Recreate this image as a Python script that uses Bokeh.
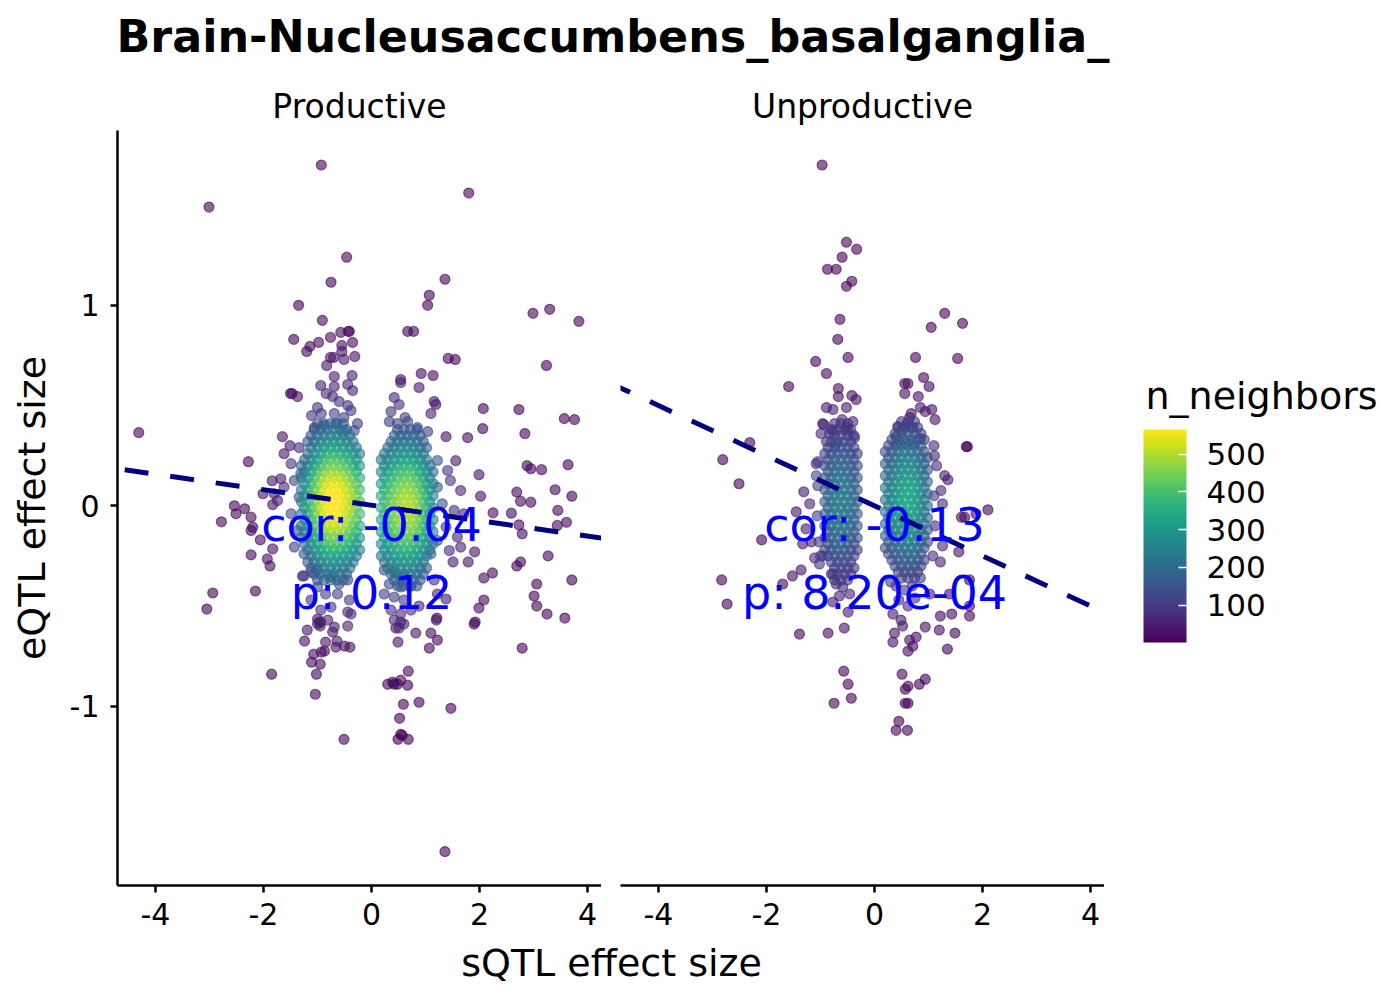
import pandas as pd
from bokeh.plotting import figure
from bokeh.models import (ColumnDataSource, LinearColorMapper, ColorBar, FixedTicker, Range1d,
                          Slope, PrintfTickFormatter)
from bokeh.layouts import column, row
from bokeh.palettes import Viridis256
from bokeh.core.properties import value
from bokeh.embed import file_html
from bokeh.resources import INLINE

FONT = "DejaVu Sans"

title_text = "Brain-Nucleusaccumbens_basalganglia_"
facets = ["Productive", "Unproductive"]
x_title = "sQTL effect size"
y_title = "eQTL effect size"
legend_title = "n_neighbors"
x_ticks = [-4, -2, 0, 2, 4]
y_ticks = [-1, 0, 1]
legend_ticks = [100, 200, 300, 400, 500]
n_low, n_high = 1, 565

# lm fit per facet and the annotation texts
fit_gradient = [-0.0386, -0.125]
fit_intercept = [0.003, 0.0]
cor_text = ["cor: -0.04", "cor: -0.13"]
p_text = ["p: 0.12", "p: 8.20e-04"]
label_x = 0.0
label_y = [-0.098, -0.437]

# ---- dense cores: each row of x / n values sits at one or two eQTL levels ----
prod_left_levels = [[0.02], [0.05, -0.01], [0.08, -0.04], [0.11, -0.07], [0.14, -0.10],
                    [0.17, -0.13], [0.20, -0.16], [0.23, -0.19], [0.26, -0.22], [0.29, -0.25],
                    [0.32, -0.28], [0.35, -0.31], [0.38, -0.34], [0.41, -0.37]]
prod_left_x = [
    [-1.30, -1.18, -1.06, -0.94, -0.82, -0.70, -0.58, -0.46, -0.34, -0.22],
    [-1.24, -1.12, -1.00, -0.88, -0.76, -0.64, -0.52, -0.40, -0.28],
    [-1.30, -1.18, -1.06, -0.94, -0.82, -0.70, -0.58, -0.46, -0.34, -0.22],
    [-1.24, -1.12, -1.00, -0.88, -0.76, -0.64, -0.52, -0.40, -0.28],
    [-1.30, -1.18, -1.06, -0.94, -0.82, -0.70, -0.58, -0.46, -0.34, -0.22],
    [-1.24, -1.12, -1.00, -0.88, -0.76, -0.64, -0.52, -0.40, -0.28],
    [-1.30, -1.18, -1.06, -0.94, -0.82, -0.70, -0.58, -0.46, -0.34, -0.22],
    [-1.24, -1.12, -1.00, -0.88, -0.76, -0.64, -0.52, -0.40, -0.28],
    [-1.18, -1.06, -0.94, -0.82, -0.70, -0.58, -0.46, -0.34, -0.22],
    [-1.12, -1.00, -0.88, -0.76, -0.64, -0.52, -0.40, -0.28],
    [-1.18, -1.06, -0.94, -0.82, -0.70, -0.58, -0.46, -0.34],
    [-1.12, -1.00, -0.88, -0.76, -0.64, -0.52, -0.40],
    [-1.06, -0.94, -0.82, -0.70, -0.58, -0.46],
    [-1.00, -0.88, -0.76, -0.64, -0.52],
]
prod_left_n = [
    [225, 325, 425, 505, 555, 565, 555, 520, 460, 390],
    [270, 370, 460, 535, 565, 560, 540, 495, 425],
    [220, 315, 415, 490, 545, 560, 545, 505, 450, 380],
    [255, 350, 435, 505, 540, 535, 510, 465, 400],
    [200, 290, 375, 455, 505, 515, 505, 465, 410, 345],
    [220, 300, 380, 440, 470, 465, 445, 405, 350],
    [170, 245, 320, 380, 425, 440, 425, 395, 350, 300],
    [190, 255, 320, 370, 400, 395, 375, 345, 295],
    [200, 265, 315, 350, 360, 350, 325, 290, 245],
    [205, 255, 300, 320, 315, 300, 275, 235],
    [155, 205, 245, 275, 280, 275, 255, 225],
    [155, 195, 225, 240, 240, 225, 210],
    [150, 180, 200, 210, 200, 185],
    [140, 160, 175, 170, 165],
]
prod_right_levels = [[-0.01], [0.02, -0.04], [0.05, -0.07], [0.08, -0.10], [0.11, -0.13],
                     [0.14, -0.16], [0.17, -0.19], [0.20, -0.22], [0.23, -0.25], [0.26, -0.28],
                     [0.29, -0.31], [0.32, -0.34], [0.35, -0.37], [0.38, -0.40]]
prod_right_x = [
    [0.18, 0.30, 0.42, 0.54, 0.66, 0.78, 0.90, 1.02, 1.14],
    [0.24, 0.36, 0.48, 0.60, 0.72, 0.84, 0.96, 1.08],
    [0.18, 0.30, 0.42, 0.54, 0.66, 0.78, 0.90, 1.02, 1.14],
    [0.24, 0.36, 0.48, 0.60, 0.72, 0.84, 0.96, 1.08],
    [0.18, 0.30, 0.42, 0.54, 0.66, 0.78, 0.90, 1.02, 1.14],
    [0.24, 0.36, 0.48, 0.60, 0.72, 0.84, 0.96, 1.08],
    [0.18, 0.30, 0.42, 0.54, 0.66, 0.78, 0.90, 1.02, 1.14],
    [0.24, 0.36, 0.48, 0.60, 0.72, 0.84, 0.96, 1.08],
    [0.18, 0.30, 0.42, 0.54, 0.66, 0.78, 0.90, 1.02],
    [0.24, 0.36, 0.48, 0.60, 0.72, 0.84, 0.96],
    [0.30, 0.42, 0.54, 0.66, 0.78, 0.90, 1.02],
    [0.36, 0.48, 0.60, 0.72, 0.84, 0.96],
    [0.42, 0.54, 0.66, 0.78, 0.90],
    [0.48, 0.60, 0.72, 0.84],
]
prod_right_n = [
    [345, 405, 455, 490, 505, 480, 420, 340, 255],
    [370, 430, 470, 495, 495, 450, 375, 290],
    [335, 395, 440, 475, 490, 465, 410, 330, 245],
    [350, 410, 445, 470, 470, 430, 355, 275],
    [305, 360, 405, 440, 450, 430, 375, 305, 225],
    [315, 365, 400, 420, 420, 380, 320, 245],
    [270, 315, 355, 380, 395, 375, 325, 265, 195],
    [265, 310, 335, 355, 355, 325, 270, 210],
    [220, 260, 290, 315, 325, 305, 270, 215],
    [215, 250, 270, 285, 285, 260, 215],
    [200, 230, 245, 255, 240, 210, 170],
    [185, 205, 215, 215, 195, 165],
    [170, 180, 185, 180, 155],
    [150, 155, 155, 140],
]
unprod_left_levels = prod_left_levels
unprod_left_x = [
    [-0.92, -0.80, -0.68, -0.56, -0.44, -0.32],
    [-0.86, -0.74, -0.62, -0.50, -0.38],
    [-0.92, -0.80, -0.68, -0.56, -0.44, -0.32],
    [-0.86, -0.74, -0.62, -0.50, -0.38],
    [-0.92, -0.80, -0.68, -0.56, -0.44, -0.32],
    [-0.86, -0.74, -0.62, -0.50, -0.38],
    [-0.92, -0.80, -0.68, -0.56, -0.44, -0.32],
    [-0.86, -0.74, -0.62, -0.50, -0.38],
    [-0.92, -0.80, -0.68, -0.56, -0.44, -0.32],
    [-0.86, -0.74, -0.62, -0.50, -0.38],
    [-0.80, -0.68, -0.56, -0.44],
    [-0.74, -0.62, -0.50, -0.38],
    [-0.80, -0.68, -0.56, -0.44],
    [-0.74, -0.62, -0.50],
]
unprod_left_n = [
    [155, 205, 235, 235, 205, 155],
    [180, 223, 240, 223, 180],
    [150, 200, 230, 230, 200, 150],
    [170, 210, 228, 212, 170],
    [140, 185, 214, 214, 185, 140],
    [155, 192, 206, 192, 155],
    [125, 165, 190, 190, 165, 125],
    [135, 165, 178, 165, 135],
    [105, 135, 158, 158, 135, 105],
    [110, 135, 145, 135, 110],
    [110, 126, 126, 110],
    [105, 113, 105, 85],
    [83, 96, 96, 83],
    [78, 84, 78],
]
unprod_right_levels = [[0.03], [0.06, 0.0], [0.09, -0.03], [0.12, -0.06], [0.15, -0.09],
                       [0.18, -0.12], [0.21, -0.15], [0.24, -0.18], [0.27, -0.21], [0.30, -0.24],
                       [0.33, -0.27], [0.36, -0.30], [0.39, -0.33], [0.42, -0.36]]
unprod_right_x = [
    [0.20, 0.32, 0.44, 0.56, 0.68, 0.80, 0.92],
    [0.26, 0.38, 0.50, 0.62, 0.74, 0.86, 0.98],
    [0.20, 0.32, 0.44, 0.56, 0.68, 0.80, 0.92],
    [0.26, 0.38, 0.50, 0.62, 0.74, 0.86, 0.98],
    [0.20, 0.32, 0.44, 0.56, 0.68, 0.80, 0.92],
    [0.26, 0.38, 0.50, 0.62, 0.74, 0.86, 0.98],
    [0.20, 0.32, 0.44, 0.56, 0.68, 0.80, 0.92],
    [0.26, 0.38, 0.50, 0.62, 0.74, 0.86, 0.98],
    [0.20, 0.32, 0.44, 0.56, 0.68, 0.80, 0.92],
    [0.26, 0.38, 0.50, 0.62, 0.74, 0.86],
    [0.32, 0.44, 0.56, 0.68, 0.80, 0.92],
    [0.38, 0.50, 0.62, 0.74, 0.86],
    [0.44, 0.56, 0.68, 0.80],
    [0.50, 0.62, 0.74],
]
unprod_right_n = [
    [210, 255, 305, 335, 330, 285, 215],
    [230, 275, 320, 336, 312, 250, 180],
    [205, 250, 297, 327, 323, 280, 210],
    [215, 260, 303, 319, 297, 240, 170],
    [190, 228, 274, 300, 298, 258, 195],
    [195, 234, 270, 285, 265, 215, 150],
    [165, 198, 238, 260, 258, 225, 170],
    [165, 198, 229, 241, 224, 180, 128],
    [135, 163, 195, 215, 213, 185, 140],
    [130, 158, 183, 193, 180, 145],
    [127, 152, 167, 166, 145, 108],
    [120, 139, 146, 136, 110],
    [113, 124, 123, 106],
    [100, 105, 98],
]

# ---- Productive: sparse points as (sQTL, eQTL, n_neighbors) ----
prod_upper = [
    (-0.93, 1.70, 2), (-3.01, 1.49, 1), (1.80, 1.56, 1), (-0.46, 1.24, 3), (-0.75, 1.115, 4),
    (1.36, 1.13, 3), (1.07, 1.05, 4), (1.04, 1.00, 5), (-1.35, 1.00, 4), (-0.91, 0.925, 8),
    (2.99, 0.96, 3), (3.30, 0.98, 3), (3.84, 0.92, 2), (-1.44, 0.83, 8), (-1.14, 0.795, 12),
    (-1.20, 0.77, 12), (-0.98, 0.815, 15), (-0.76, 0.84, 18), (-0.57, 0.865, 18), (-0.43, 0.87, 16),
    (-0.41, 0.87, 16), (-0.55, 0.80, 24), (-0.35, 0.815, 20), (-0.55, 0.77, 28), (-0.76, 0.74, 30),
    (-0.70, 0.74, 32), (-0.51, 0.73, 34), (-0.31, 0.745, 26), (-0.83, 0.70, 35), (-0.69, 0.645, 45),
    (-0.36, 0.65, 42), (0.67, 0.87, 10), (0.78, 0.87, 10), (1.42, 0.735, 8), (1.55, 0.73, 8),
    (0.92, 0.66, 18), (1.14, 0.65, 14), (0.54, 0.63, 30), (3.24, 0.70, 3),
]
prod_left_side = [
    (-4.31, 0.365, 1), (-2.28, 0.22, 6), (-2.54, 0.0, 10), (-2.35, -0.015, 12), (-2.51, -0.04, 12),
    (-2.78, -0.08, 8), (-2.23, -0.057, 15), (-2.20, -0.107, 15), (-2.23, -0.123, 14), (-2.06, -0.17, 16),
    (-2.23, -0.245, 10), (-1.93, -0.265, 18), (-1.88, -0.30, 16), (-1.83, -0.215, 24), (-2.94, -0.435, 3),
    (-3.05, -0.515, 3), (-2.15, -0.425, 8), (-1.65, 0.345, 30), (-1.51, 0.30, 40), (-1.62, 0.26, 38),
    (-1.34, 0.29, 70), (-1.50, 0.56, 20), (-1.47, 0.56, 20), (-1.37, 0.545, 25), (-1.84, 0.125, 30),
    (-1.68, 0.135, 45), (-2.01, 0.06, 22), (-1.80, 0.06, 38), (-1.74, 0.026, 44), (-1.83, 0.006, 40),
]
prod_right_side = [
    (2.07, 0.485, 6), (2.73, 0.48, 5), (3.57, 0.435, 5), (3.76, 0.43, 5), (2.84, 0.36, 6),
    (1.78, 0.34, 18), (1.38, 0.345, 30), (2.06, 0.385, 10), (2.88, 0.20, 12), (2.95, 0.185, 12),
    (3.15, 0.18, 10), (3.64, 0.205, 6), (1.99, 0.155, 24), (1.56, 0.225, 40), (3.40, 0.08, 10),
    (2.69, 0.068, 14), (2.76, 0.023, 15), (2.95, 0.018, 14), (3.71, 0.048, 6), (2.02, 0.048, 26),
    (2.25, -0.035, 20), (2.59, -0.037, 16), (2.73, -0.095, 15), (2.79, -0.14, 14), (3.45, -0.023, 10),
    (3.44, -0.098, 10), (3.61, -0.082, 9), (3.27, -0.25, 8), (2.69, -0.30, 10), (2.76, -0.28, 10),
    (1.91, -0.23, 28), (1.51, -0.28, 40), (1.79, -0.28, 30), (2.08, -0.36, 18), (2.24, -0.335, 16),
    (3.71, -0.37, 4), (3.06, -0.39, 6), (3.01, -0.45, 6), (3.06, -0.50, 6), (3.25, -0.54, 4),
    (3.58, -0.56, 3), (2.08, -0.47, 12), (1.99, -0.51, 12), (1.92, -0.58, 10), (1.38, -0.465, 35),
    (1.21, -0.56, 30), (0.88, -0.50, 60), (-0.44, -0.53, 60), (-1.00, -0.565, 45), (-0.94, -0.58, 45),
    (-1.28, -0.35, 70), (-1.12, -0.33, 90),
]
prod_lower = [
    (-1.19, -0.62, 30), (-1.24, -0.675, 24), (-0.95, -0.60, 40), (-0.97, -0.58, 42), (-0.72, -0.63, 40),
    (-0.85, -0.68, 30), (-0.64, -0.675, 32), (-0.66, -0.705, 28), (-0.50, -0.70, 26), (-0.40, -0.705, 24),
    (-1.07, -0.74, 20), (-0.93, -0.73, 22), (-0.87, -0.725, 22), (-1.11, -0.78, 16), (-0.95, -0.79, 16),
    (-1.02, -0.84, 12), (-1.04, -0.94, 6), (-1.85, -0.84, 3), (-0.51, -1.165, 2), (0.45, -0.61, 40),
    (0.49, -0.68, 30), (0.54, -0.58, 44), (0.82, -0.635, 30), (1.10, -0.635, 20), (1.22, -0.67, 16),
    (1.07, -0.71, 16), (1.20, -0.57, 24), (1.90, -0.59, 8), (2.79, -0.71, 3), (0.68, -0.825, 12),
    (0.30, -0.89, 10), (0.39, -0.88, 10), (0.48, -0.89, 10), (0.54, -0.87, 10), (0.67, -0.895, 9),
    (0.42, -0.89, 10), (0.59, -0.99, 6), (0.88, -0.98, 5), (0.52, -1.06, 5), (1.47, -1.01, 3),
    (0.54, -1.14, 4), (0.49, -1.165, 4), (0.68, -1.165, 4), (0.57, -1.145, 4), (1.36, -1.725, 1),
]
prod_fringe = [
    (-0.94, 0.60, 50), (-0.69, 0.595, 55), (-0.44, 0.605, 50), (-0.35, 0.575, 55), (-0.84, 0.56, 65),
    (-0.72, 0.545, 70), (-0.60, 0.52, 80), (-0.44, 0.50, 85), (-1.00, 0.49, 80), (-0.93, 0.46, 95),
    (-1.11, 0.45, 85), (-0.69, 0.46, 105), (-0.38, 0.475, 90), (-0.51, 0.44, 110), (-0.26, 0.41, 100),
    (-1.06, 0.39, 110), (-0.88, 0.40, 125), (-0.66, 0.41, 135), (-0.51, 0.375, 140), (-0.32, 0.375, 125),
    (0.54, 0.615, 45), (0.88, 0.59, 40), (0.42, 0.54, 60), (0.51, 0.505, 75), (0.36, 0.47, 85),
    (0.62, 0.44, 110), (0.33, 0.42, 100), (0.48, 0.41, 120), (0.67, 0.42, 120), (1.16, 0.52, 35),
    (1.19, 0.505, 35), (1.10, 0.46, 55), (0.85, 0.39, 120), (1.04, 0.37, 100),
    (-1.25, -0.35, 110), (-1.00, -0.32, 150), (-0.75, -0.355, 165), (-0.60, -0.39, 140), (-0.44, -0.37, 135),
    (-1.00, -0.405, 120), (-0.85, -0.44, 110), (-0.63, -0.44, 110), (-0.41, -0.47, 90), (-1.12, -0.47, 80),
    (-0.94, -0.52, 75), (-0.75, -0.505, 85), (-0.38, -0.54, 65), (-0.81, -0.57, 60), (-0.69, -0.605, 50),
    (-0.44, -0.60, 50), (-1.00, -0.59, 50),
    (0.235, -0.32, 150), (0.42, -0.33, 160), (0.60, -0.355, 160), (0.33, -0.39, 135), (0.54, -0.405, 135),
    (0.73, -0.40, 130), (0.235, -0.44, 100), (0.42, -0.455, 105), (0.60, -0.47, 100), (0.36, -0.52, 80),
    (0.54, -0.54, 75), (0.73, -0.52, 75), (0.42, -0.57, 60), (0.60, -0.59, 55), (0.51, -0.61, 50),
    (1.16, -0.37, 70), (1.22, -0.44, 55),
    (-1.49, 0.21, 90), (-1.43, 0.126, 120), (-1.34, 0.043, 150), (-1.49, -0.04, 120), (-1.37, -0.123, 135),
    (-1.43, -0.206, 100), (-1.25, -0.24, 140), (-1.31, 0.16, 150), (-1.62, 0.093, 70),
    (1.22, 0.226, 140), (1.41, 0.176, 90), (1.22, 0.093, 170), (1.46, 0.126, 90), (1.65, 0.076, 60),
    (1.31, 0.01, 140), (1.53, -0.023, 80), (1.71, -0.04, 55), (1.38, -0.106, 100), (1.59, -0.156, 60),
    (1.22, -0.173, 150), (1.10, -0.24, 160), (1.44, -0.223, 70), (1.65, -0.206, 50),
]

# ---- Unproductive: sparse points ----
unprod_upper = [
    (-0.97, 1.70, 1), (-0.52, 1.315, 3), (-0.33, 1.28, 3), (-0.60, 1.24, 3), (-0.87, 1.18, 3),
    (-0.71, 1.18, 4), (-0.42, 1.12, 4), (-0.52, 1.095, 4), (-0.64, 0.93, 6), (-0.68, 0.83, 8),
    (-1.09, 0.72, 8), (-0.49, 0.74, 12), (-0.89, 0.66, 14), (-1.59, 0.595, 4), (1.30, 0.96, 2),
    (1.05, 0.89, 3), (1.63, 0.91, 2), (0.76, 0.74, 8), (1.54, 0.735, 3), (0.91, 0.64, 12),
    (1.01, 0.595, 14), (0.56, 0.61, 18), (0.62, 0.61, 18), (0.56, 0.56, 22), (0.81, 0.545, 24),
    (-0.67, 0.585, 22), (-0.67, 0.545, 26), (-0.42, 0.55, 28), (-0.34, 0.53, 28), (0.85, 0.49, 32),
    (0.94, 0.47, 32), (1.06, 0.48, 26), (1.12, 0.43, 28), (0.68, 0.46, 40), (0.65, 0.44, 44),
    (0.43, 0.395, 60), (0.59, 0.405, 62), (0.71, 0.39, 62), (0.52, 0.38, 68), (0.40, 0.345, 80),
    (0.85, 0.335, 70), (0.59, 0.31, 90), (0.71, 0.31, 90), (0.42, 0.305, 85), (-0.89, 0.49, 40),
    (-0.77, 0.48, 44), (-0.52, 0.49, 42), (-0.94, 0.405, 60), (-0.99, 0.36, 68), (-0.89, 0.32, 80),
    (-0.77, 0.375, 75), (-0.60, 0.43, 70), (-0.40, 0.42, 62), (-0.52, 0.39, 80), (-2.31, 0.315, 3),
    (1.70, 0.295, 6), (1.72, 0.295, 6), (-0.96, 0.41, 55), (-0.83, 0.36, 75), (-0.71, 0.31, 100),
    (-0.37, 0.34, 95), (-0.49, 0.375, 85),
]
unprod_middle = [
    (-2.81, 0.23, 3), (-2.51, 0.11, 4), (-1.08, 0.21, 70), (-1.31, 0.07, 40), (-1.20, 0.01, 60),
    (-2.09, -0.17, 6), (-1.45, -0.03, 30), (-1.27, -0.115, 45), (-1.33, -0.19, 40), (-1.17, -0.18, 60),
    (-1.11, -0.26, 70), (-0.96, -0.25, 100), (-1.02, -0.29, 85), (-1.36, -0.32, 30), (-1.52, -0.35, 22),
    (-1.70, -0.39, 14), (-2.83, -0.37, 3), (-2.73, -0.49, 3), (-1.39, -0.64, 6), (-0.86, -0.635, 20),
    (-0.56, -0.61, 26), (-0.77, -0.34, 80), (-0.71, -0.39, 70), (-0.59, -0.405, 66), (-0.65, -0.45, 55),
    (-0.46, -0.44, 55), (-0.77, -0.48, 45), (-0.49, -0.53, 40), (1.11, 0.25, 60), (1.30, 0.15, 40),
    (1.36, 0.13, 38), (1.23, 0.076, 70), (1.26, 0.01, 72), (2.10, -0.02, 6), (1.88, -0.04, 10),
    (1.61, -0.057, 20), (1.26, -0.20, 60), (1.56, -0.23, 24), (1.22, -0.28, 50), (1.76, -0.37, 12),
    (1.39, -0.44, 20), (1.76, -0.50, 10), (1.76, -0.55, 10), (1.22, -0.55, 20), (1.43, -0.54, 16),
    (0.94, -0.605, 26), (1.20, -0.62, 18), (1.49, -0.635, 10), (1.35, -0.715, 8), (0.37, -0.635, 30),
    (0.34, -0.68, 26), (0.65, -0.67, 24), (0.77, -0.655, 24), (0.62, -0.725, 18), (0.71, -0.70, 20),
    (0.34, -0.54, 50), (0.49, -0.57, 44), (0.52, -0.60, 38), (1.02, -0.44, 45), (1.67, -0.057, 16),
    (0.40, -0.40, 90), (0.55, -0.42, 95), (0.70, -0.40, 90), (0.45, -0.47, 70), (0.62, -0.50, 65),
    (0.75, -0.46, 70), (0.85, -0.36, 100), (0.30, -0.38, 90), (1.15, 0.20, 70), (1.12, -0.10, 80),
    (1.10, 0.30, 70), (1.10, 0.05, 95), (1.08, -0.25, 75), (-1.05, 0.10, 110), (-1.06, -0.05, 110),
    (-1.05, 0.22, 90), (-1.03, -0.18, 95), (-1.08, 0.15, 120), (-1.00, -0.25, 100),
]
unprod_lower = [
    (-0.57, -0.825, 8), (-0.49, -0.89, 6), (-0.43, -0.96, 5), (-0.75, -0.985, 4), (0.51, -0.84, 10),
    (0.94, -0.865, 6), (0.83, -0.89, 7), (0.62, -0.90, 8), (0.57, -0.915, 8), (0.57, -0.985, 6),
    (0.62, -0.985, 6), (0.45, -1.075, 4), (0.40, -1.12, 3), (0.61, -1.12, 3),
]


def core_points(levels, xs, ns):
    pts = []
    for ys, row_x, row_n in zip(levels, xs, ns):
        for y in ys:
            pts += [(x, y, n) for x, n in zip(row_x, row_n)]
    return pts


prod_points = (core_points(prod_left_levels, prod_left_x, prod_left_n)
               + core_points(prod_right_levels, prod_right_x, prod_right_n)
               + prod_upper + prod_left_side + prod_right_side + prod_lower + prod_fringe)
unprod_points = (core_points(unprod_left_levels, unprod_left_x, unprod_left_n)
                 + core_points(unprod_right_levels, unprod_right_x, unprod_right_n)
                 + unprod_upper + unprod_middle + unprod_lower)

mapper = LinearColorMapper(palette=Viridis256, low=n_low, high=n_high)
x_range = Range1d(-4.704, 4.259)
y_range = Range1d(-1.894, 1.872)

FRAME_H = 755
BORDER_TOP = 60
BORDER_BOTTOM = 50


def make_panel(label, points, gradient, intercept, cor, pval, first):
    opts = dict(frame_width=484, frame_height=FRAME_H, x_range=x_range, y_range=y_range,
                title=label, toolbar_location=None, output_backend="svg",
                min_border_top=BORDER_TOP, min_border_bottom=BORDER_BOTTOM, min_border_right=0)
    if first:
        opts.update(min_border_left=117)
    else:
        opts.update(min_border_left=19, y_axis_location=None)
    p = figure(**opts)
    p.grid.visible = False
    p.outline_line_color = None

    p.title.align = "center"
    p.title.text_font = FONT
    p.title.text_font_size = "33px"
    p.title.text_font_style = "normal"
    p.title.text_color = "black"
    p.title.standoff = 9

    for ax in p.axis:
        ax.axis_line_width = 2.5
        ax.axis_line_color = "black"
        ax.major_tick_line_width = 2.5
        ax.major_tick_line_color = "black"
        ax.major_tick_in = 0
        ax.major_tick_out = 7
        ax.minor_tick_line_color = None
        ax.formatter = PrintfTickFormatter(format="%d")
        ax.major_label_text_font = FONT
        ax.major_label_text_font_size = "30px"
        ax.major_label_text_color = "black"
        ax.axis_label_text_font = FONT
        ax.axis_label_text_font_size = "38px"
        ax.axis_label_text_font_style = "normal"
        ax.axis_label_text_color = "black"
    p.xaxis.ticker = FixedTicker(ticks=x_ticks)
    p.xaxis.major_label_standoff = 10
    if first:
        p.yaxis.ticker = FixedTicker(ticks=y_ticks)
        p.yaxis.major_label_standoff = 11
        p.yaxis.axis_label = y_title
        p.yaxis.axis_label_standoff = 13

    df = pd.DataFrame(points, columns=["x", "y", "n"]).sort_values("n", kind="stable")
    src = ColumnDataSource(df)
    cmap = {"field": "n", "transform": mapper}
    p.scatter("x", "y", source=src, size=10, fill_color=cmap, line_color=cmap,
              fill_alpha=0.6, line_alpha=0.6, line_width=1.2)

    p.add_layout(Slope(gradient=gradient, y_intercept=intercept, line_color="#000080",
                       line_width=5, line_dash="24 22"))

    lab = p.text(x=[label_x, label_x], y=label_y, text=[cor, pval], text_color="#0000FF",
                 text_font=value(FONT), text_font_size="46px", text_align="center",
                 text_baseline="alphabetic")
    lab.level = "overlay"
    return p


p1 = make_panel(facets[0], prod_points, fit_gradient[0], fit_intercept[0], cor_text[0], p_text[0], True)
p2 = make_panel(facets[1], unprod_points, fit_gradient[1], fit_intercept[1], cor_text[1], p_text[1], False)


def text_strip(width, height, x, y, text, size, style, align, **extra):
    f = figure(frame_width=width, frame_height=height, x_range=Range1d(0, width),
               y_range=Range1d(0, height), toolbar_location=None, output_backend="svg",
               x_axis_location=None, y_axis_location=None, min_border_left=0,
               min_border_right=0, **extra)
    f.grid.visible = False
    f.outline_line_color = None
    f.text(x=[x], y=[y], text=[text], text_font=value(FONT), text_font_size=size,
           text_font_style=style, text_color="black", text_align=align, text_baseline="alphabetic")
    return f


head = text_strip(1391, 70, 116, 34, title_text, "44.4px", "bold", "left",
                  min_border_top=0, min_border_bottom=0)
foot = text_strip(1391, 60, 611, 33, x_title, "38px", "normal", "center",
                  min_border_top=0, min_border_bottom=0)

# legend column: its frame spans the panels' frames; title text plus a vertical colour bar
legend = text_strip(287, FRAME_H, 41, 490, legend_title, "38px", "normal", "left",
                    min_border_top=BORDER_TOP, min_border_bottom=BORDER_BOTTOM)
cb = ColorBar(color_mapper=mapper, ticker=FixedTicker(ticks=legend_ticks), width=43, height=213,
              location=(39, 243), margin=0, padding=0,
              major_label_text_font=FONT, major_label_text_font_size="31px",
              major_label_text_color="black", label_standoff=20,
              major_tick_line_color="white", major_tick_line_width=1.5,
              major_tick_in=8, major_tick_out=0, minor_tick_line_color=None,
              bar_line_color=None, border_line_color=None, background_fill_color=None)
legend.add_layout(cb)

layout = column(head, row(p1, p2, legend), foot)
open("out.html", "w").write(file_html(layout, INLINE))
